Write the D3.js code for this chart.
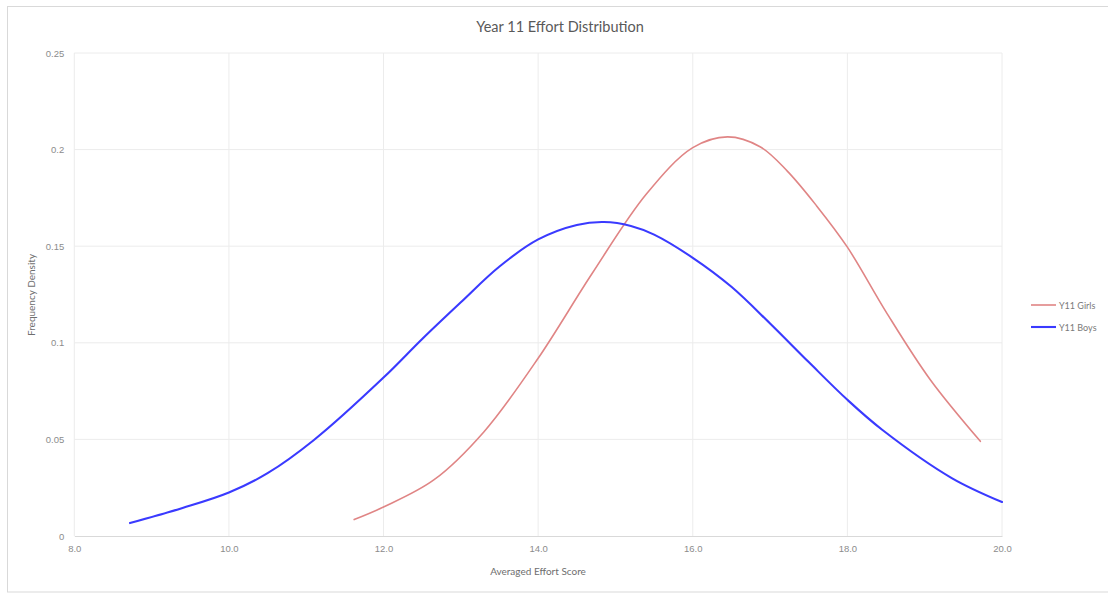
<!DOCTYPE html>
<html>
<head>
<meta charset="utf-8">
<script src="https://cdn.jsdelivr.net/npm/d3@7/dist/d3.min.js"></script>
<style>
  html, body { margin: 0; padding: 0; background: #fff; }
  svg { display: block; font-family: Lato, "Open Sans", sans-serif; }
</style>
</head>
<body>
<svg id="chart" width="1108" height="593"></svg>
<script>
// Averaged effort score vs. frequency density, one list per series
const girlsX = [11.62, 12.0, 12.65, 13.3, 14.0, 14.7, 15.4, 16.0, 16.45, 16.87, 17.22, 17.6, 18.0, 18.5, 19.07, 19.72];
const girlsY = [0.0085, 0.015, 0.029, 0.054, 0.092, 0.136, 0.177, 0.201, 0.2066, 0.2015, 0.189, 0.171, 0.1495, 0.116, 0.081, 0.049];

const boysX = [8.72, 9.4, 10.0, 10.5, 11.1, 12.0, 12.5, 13.0, 13.5, 14.0, 14.5, 14.85, 15.2, 15.5, 16.0, 16.5, 17.0, 17.5, 18.0, 18.45, 19.35, 20.0];
const boysY = [0.0067, 0.0145, 0.0225, 0.0325, 0.0497, 0.082, 0.102, 0.121, 0.1395, 0.1535, 0.161, 0.1625, 0.1605, 0.156, 0.144, 0.129, 0.110, 0.090, 0.0705, 0.055, 0.030, 0.0176];

const xTicks = [8, 10, 12, 14, 16, 18, 20];
const yTicks = [0, 0.05, 0.1, 0.15, 0.2, 0.25];
const yTickLabels = ["0", "0.05", "0.1", "0.15", "0.2", "0.25"];

const seriesNames = ["Y11 Girls", "Y11 Boys"];
const seriesColors = ["#e08585", "#3a3aff"];
const seriesWidths = [1.6, 2.1];

const svg = d3.select("#chart");

// outer chart frame
svg.append("rect")
  .attr("x", 7.5).attr("y", 6.5)
  .attr("width", 1120).attr("height", 585.5)
  .attr("fill", "#fff").attr("stroke", "#d9d9d9");

const plot = { left: 74.3, right: 1002, top: 53, bottom: 536 };

const x = d3.scaleLinear().domain([8, 20]).range([plot.left, plot.right]);
const y = d3.scaleLinear().domain([0, 0.25]).range([plot.bottom, plot.top]);

// gridlines
const grid = svg.append("g");
grid.selectAll("line.v").data(xTicks).join("line")
  .attr("x1", d => x(d)).attr("x2", d => x(d))
  .attr("y1", plot.top).attr("y2", plot.bottom)
  .attr("stroke", "#ececec").attr("stroke-width", 1);
grid.selectAll("line.h").data(yTicks.slice(1)).join("line")
  .attr("x1", plot.left).attr("x2", plot.right)
  .attr("y1", d => y(d)).attr("y2", d => y(d))
  .attr("stroke", "#ececec").attr("stroke-width", 1);

// x axis
const xAxis = svg.append("g")
  .attr("transform", `translate(0,${plot.bottom})`)
  .call(d3.axisBottom(x).tickValues(xTicks).tickFormat(d3.format(".1f")).tickSize(0).tickPadding(9));
xAxis.select(".domain").attr("stroke", "#d9d9d9");
xAxis.selectAll("text").attr("fill", "#8c8c8c").attr("font-size", 9.5);

// y axis
const yAxis = svg.append("g")
  .attr("transform", `translate(${plot.left},0)`)
  .call(d3.axisLeft(y).tickValues(yTicks).tickFormat((d, i) => yTickLabels[i]).tickSize(0).tickPadding(10));
yAxis.select(".domain").remove();
yAxis.selectAll("text").attr("fill", "#8c8c8c").attr("font-size", 9.5);

// series lines
const series = [
  girlsX.map((v, i) => [v, girlsY[i]]),
  boysX.map((v, i) => [v, boysY[i]])
];
const line = d3.line()
  .x(d => x(d[0])).y(d => y(d[1]))
  .curve(d3.curveCatmullRom.alpha(0.5));

svg.append("g").selectAll("path").data(series).join("path")
  .attr("d", line)
  .attr("fill", "none")
  .attr("stroke", (d, i) => seriesColors[i])
  .attr("stroke-width", (d, i) => seriesWidths[i])
  .attr("stroke-linejoin", "round")
  .attr("stroke-linecap", "round");

// title
svg.append("text")
  .attr("x", 560).attr("y", 32)
  .attr("text-anchor", "middle")
  .attr("font-size", 14.5)
  .attr("fill", "#595959")
  .text("Year 11 Effort Distribution");

// axis titles
svg.append("text")
  .attr("x", 538).attr("y", 575)
  .attr("text-anchor", "middle")
  .attr("font-size", 10)
  .attr("fill", "#6e6e6e")
  .text("Averaged Effort Score");

svg.append("text")
  .attr("transform", "translate(35,295) rotate(-90)")
  .attr("text-anchor", "middle")
  .attr("font-size", 10)
  .attr("fill", "#6e6e6e")
  .text("Frequency Density");

// legend
const legend = svg.append("g").selectAll("g").data(seriesNames).join("g")
  .attr("transform", (d, i) => `translate(1031,${305 + i * 22})`);
legend.append("line")
  .attr("x1", 0).attr("x2", 25).attr("y1", 0).attr("y2", 0)
  .attr("stroke", (d, i) => seriesColors[i])
  .attr("stroke-width", (d, i) => seriesWidths[i]);
legend.append("text")
  .attr("x", 28).attr("y", 3.5)
  .attr("font-size", 9)
  .attr("fill", "#7a7a7a")
  .text(d => d);
</script>
</body>
</html>
